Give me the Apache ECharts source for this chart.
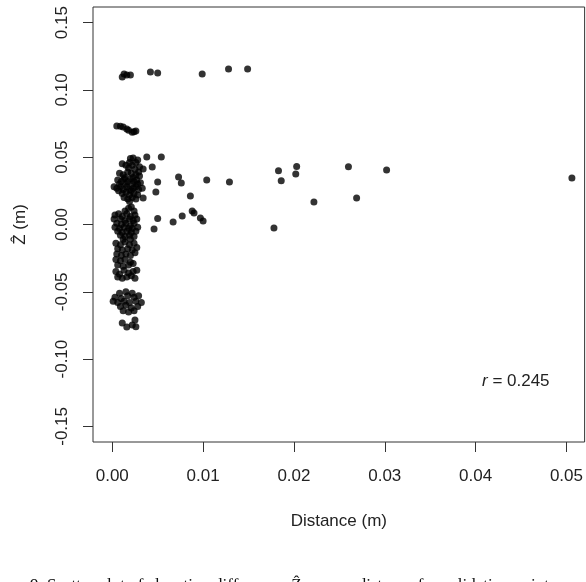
<!DOCTYPE html>
<html>
<head>
<meta charset="utf-8">
<script src="https://cdn.jsdelivr.net/npm/echarts@6/dist/echarts.min.js"></script>
<style>
html, body { margin: 0; padding: 0; background: #fff; }
#chart { width: 586px; height: 582px; }
</style>
</head>
<body>
<div id="chart"></div>
<script>
// tick labels
var xTicks = [0, 0.01, 0.02, 0.03, 0.04, 0.05];
var yTicks = [-0.15, -0.10, -0.05, 0.00, 0.05, 0.10, 0.15];

// [distance, zhat]
var topRow = [[0.0011,0.1096],[0.0013,0.1118],[0.0016,0.1110],[0.0020,0.1110],[0.0042,0.1133],[0.0050,0.1126],
  [0.0099,0.1118],[0.0128,0.1155],[0.0149,0.1155]];
var row07 = [[0.0005,0.0732],[0.0009,0.0730],[0.0012,0.0724],[0.0016,0.0710],[0.0018,0.0700],[0.0022,0.0685],
  [0.0024,0.0690],[0.0026,0.0695]];
var clusterUp = [[0.0020,0.049],[0.0023,0.0494],[0.0028,0.048],[0.0019,0.046],[0.0026,0.046],[0.0011,0.0452],
  [0.0015,0.044],[0.0022,0.044],[0.0030,0.043],[0.0018,0.042],[0.0025,0.041],
  [0.0008,0.038],[0.0012,0.037],[0.0017,0.039],[0.0021,0.038],[0.0026,0.037],[0.0029,0.039],[0.0014,0.035],[0.0023,0.035],[0.0030,0.036],
  [0.0006,0.033],[0.0010,0.032],[0.0013,0.034],[0.0017,0.032],[0.0020,0.034],[0.0024,0.032],[0.0027,0.033],[0.0031,0.031],
  [0.0008,0.030],[0.0015,0.030],[0.0022,0.030],[0.0028,0.030],
  [0.0002,0.028],[0.0005,0.027],[0.0009,0.028],[0.0012,0.026],[0.0016,0.028],[0.0019,0.026],[0.0023,0.027],[0.0026,0.028],
  [0.0029,0.026],[0.0033,0.027],[0.0007,0.025],[0.0021,0.025],
  [0.0011,0.023],[0.0015,0.024],[0.0019,0.022],[0.0024,0.023],[0.0028,0.022],[0.0013,0.020],[0.0017,0.019],[0.0022,0.020],[0.0026,0.019],[0.0019,0.017]];
var clusterMid = [[0.0018,0.012],[0.0021,0.013],[0.0014,0.010],[0.0024,0.010],
  [0.0003,0.007],[0.0007,0.008],[0.0011,0.006],[0.0016,0.008],[0.0020,0.006],[0.0025,0.007],
  [0.0002,0.004],[0.0009,0.004],[0.0014,0.003],[0.0019,0.004],[0.0023,0.003],[0.0027,0.004],
  [0.0005,0.001],[0.0010,0.000],[0.0015,0.001],[0.0020,-0.001],[0.0024,0.001],[0.0028,-0.002],
  [0.0003,-0.002],[0.0008,-0.003],[0.0013,-0.002],[0.0018,-0.003],[0.0022,-0.003],
  [0.0006,-0.005],[0.0011,-0.006],[0.0016,-0.005],[0.0021,-0.006],[0.0026,-0.005],
  [0.0009,-0.008],[0.0014,-0.009],[0.0019,-0.008],[0.0024,-0.009],[0.0012,-0.011],[0.0020,-0.011],
  [0.0004,-0.014],[0.0009,-0.015],[0.0014,-0.013],[0.0019,-0.015],[0.0024,-0.014],
  [0.0006,-0.018],[0.0011,-0.019],[0.0017,-0.018],[0.0022,-0.019],[0.0027,-0.017],
  [0.0005,-0.022],[0.0010,-0.023],[0.0015,-0.022],[0.0020,-0.023],[0.0025,-0.021],
  [0.0004,-0.026],[0.0009,-0.027],[0.0014,-0.026],[0.0020,-0.028],[0.0006,-0.030],[0.0012,-0.031],[0.0018,-0.030],[0.0023,-0.029],
  [0.0004,-0.035],[0.0008,-0.037],[0.0013,-0.034],[0.0018,-0.036],[0.0023,-0.035],[0.0027,-0.034],
  [0.0006,-0.039],[0.0011,-0.040],[0.0016,-0.039],[0.0021,-0.038],[0.0025,-0.040]];
var clusterLow = [[0.0008,-0.051],[0.0015,-0.050],[0.0022,-0.051],[0.0003,-0.054],[0.0010,-0.055],[0.0017,-0.053],[0.0024,-0.054],[0.0029,-0.053],
  [0.0001,-0.057],[0.0006,-0.058],[0.0013,-0.057],[0.0019,-0.058],[0.0026,-0.057],[0.0032,-0.058],
  [0.0009,-0.061],[0.0015,-0.060],[0.0021,-0.062],[0.0028,-0.061],[0.0012,-0.064],[0.0018,-0.065],[0.0024,-0.064],
  [0.0011,-0.0732],[0.0016,-0.0762],[0.0022,-0.0747],[0.0025,-0.0710],[0.0026,-0.0760]];
var scattered = [[0.0038,0.0501],[0.0054,0.0501],[0.0044,0.0427],[0.0034,0.0412],[0.0050,0.0316],[0.0073,0.0353],
  [0.0076,0.0308],[0.0104,0.0331],[0.0129,0.0316],[0.0183,0.0400],[0.0186,0.0325],[0.0048,0.0241],[0.0086,0.0212],
  [0.0034,0.0197],[0.0203,0.0431],[0.0202,0.0375],[0.0222,0.0167],[0.0260,0.0430],[0.0269,0.0197],[0.0302,0.0405],
  [0.0506,0.0346],[0.0050,0.0045],[0.0067,0.0019],[0.0077,0.0063],[0.0088,0.0100],[0.0090,0.0085],[0.0097,0.0048],
  [0.0100,0.0026],[0.0046,-0.0033],[0.0178,-0.0026]];

var points = topRow.concat(row07, clusterUp, clusterMid, clusterLow, scattered);

var myChart = echarts.init(document.getElementById('chart'));
var txt = '#222';
var option = {
  animation: false,
  grid: {
    left: 93, right: 1, top: 7, bottom: 140,
    show: true, borderColor: '#333', borderWidth: 1, backgroundColor: 'transparent'
  },
  xAxis: {
    type: 'value',
    min: -0.00212, max: 0.0520,
    name: 'Distance (m)',
    nameLocation: 'middle',
    nameGap: 71,
    nameTextStyle: { fontFamily: 'Liberation Sans', fontSize: 17, color: txt },
    axisLine: { show: false, onZero: false },
    splitLine: { show: false },
    axisTick: { show: true, inside: false, length: 10, customValues: xTicks, lineStyle: { color: '#333' } },
    axisLabel: {
      customValues: xTicks, margin: 26, fontFamily: 'Liberation Sans', fontSize: 17, color: txt,
      formatter: function (v) { return v.toFixed(2); }
    }
  },
  yAxis: {
    type: 'value',
    min: -0.1616, max: 0.1616,
    name: 'Ẑ (m)',
    nameLocation: 'middle',
    nameGap: 64,
    nameRotate: 90,
    nameTextStyle: { fontFamily: 'Liberation Sans', fontSize: 17, color: txt },
    axisLine: { show: false, onZero: false },
    splitLine: { show: false },
    axisTick: { show: true, inside: false, length: 10, customValues: yTicks, lineStyle: { color: '#333' } },
    axisLabel: {
      customValues: yTicks, margin: 22, rotate: 90, align: 'center', verticalAlign: 'bottom',
      fontFamily: 'Liberation Sans', fontSize: 17, color: txt,
      formatter: function (v) { return v.toFixed(2); }
    }
  },
  graphic: [
    {
      type: 'text', left: 482, top: 373,
      style: {
        text: '{i|r} = 0.245',
        fontFamily: 'Liberation Sans', fontSize: 17, fill: txt,
        rich: { i: { fontStyle: 'italic', fontFamily: 'Liberation Sans', fontSize: 17, color: txt } }
      }
    },
    {
      type: 'text', left: 30, top: 577,
      style: {
        text: '9. Scatter plot of elevation difference  Ẑ  versus distance for validation points',
        fontFamily: 'Liberation Serif', fontSize: 17, fill: '#111'
      }
    }
  ],
  series: [
    {
      type: 'scatter',
      symbol: 'circle',
      symbolSize: 7,
      itemStyle: { color: '#000' },
      data: points
    }
  ]
};
myChart.setOption(option);
</script>
</body>
</html>
